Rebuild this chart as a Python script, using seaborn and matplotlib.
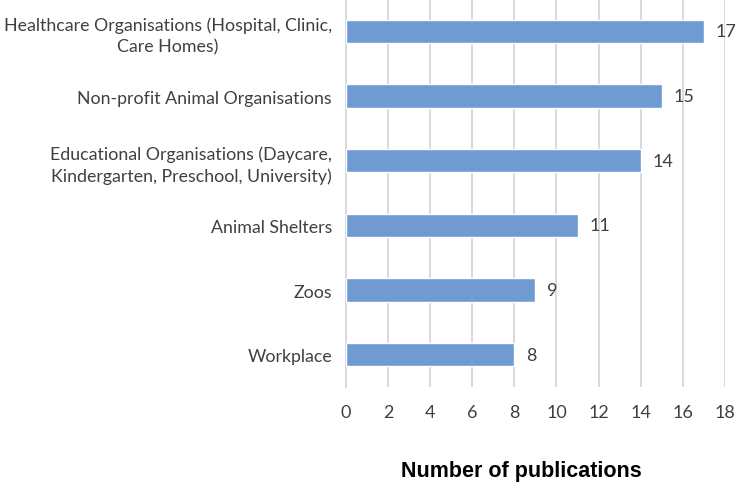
import matplotlib
matplotlib.use("Agg")
import matplotlib.pyplot as plt
import seaborn as sns
import pandas as pd

categories = [
    "Healthcare Organisations (Hospital, Clinic,\nCare Homes)",
    "Non-profit Animal Organisations",
    "Educational Organisations (Daycare,\nKindergarten, Preschool, University)",
    "Animal Shelters",
    "Zoos",
    "Workplace",
]
values = [17, 15, 14, 11, 9, 8]
xticks = [0, 2, 4, 6, 8, 10, 12, 14, 16, 18]

sns.set_theme(style="white")
plt.rcParams["font.family"] = ["Lato", "DejaVu Sans"]

df = pd.DataFrame({"cat": categories, "val": values})

fig = plt.figure(figsize=(7.36, 4.85), dpi=100)
ax = fig.add_axes([0.470, 0.2, 0.515, 0.8])
sns.barplot(data=df, y="cat", x="val", orient="h", color="#6f9bd2",
            width=0.36, saturation=1, ax=ax, zorder=3)

ax.set_xlim(0, 18)
ax.set_ylim(5.5, -0.5)
ax.set_xticks(xticks)
ax.set_xticklabels([str(t) for t in xticks])
ax.grid(axis="x", color="#d9d9d9", linewidth=1.4, zorder=0)
ax.grid(axis="y", visible=False)
for s in ["top", "right", "bottom"]:
    ax.spines[s].set_visible(False)
ax.spines["left"].set_color("#d9d9d9")
ax.spines["left"].set_linewidth(1.4)
ax.tick_params(axis="x", length=0, colors="#404040", labelsize=13, pad=12)
ax.tick_params(axis="y", length=0, colors="#404040", labelsize=12.8, pad=10)
for lbl in ax.get_yticklabels():
    lbl.set_multialignment("center")
    lbl.set_linespacing(1.4)

for i, v in enumerate(values):
    ax.text(v + 0.55, i, str(v), va="center", ha="left", fontsize=13, color="#404040")

ax.set_ylabel("")
ax.set_xlabel("Number of publications", fontsize=15.5, fontweight="bold",
              family=["Liberation Sans", "DejaVu Sans"], color="black")
ax.xaxis.set_label_coords(0.463, -0.216, transform=ax.transAxes)
ax.xaxis.label.set_va("center")

fig.savefig("out.png", dpi=100)
